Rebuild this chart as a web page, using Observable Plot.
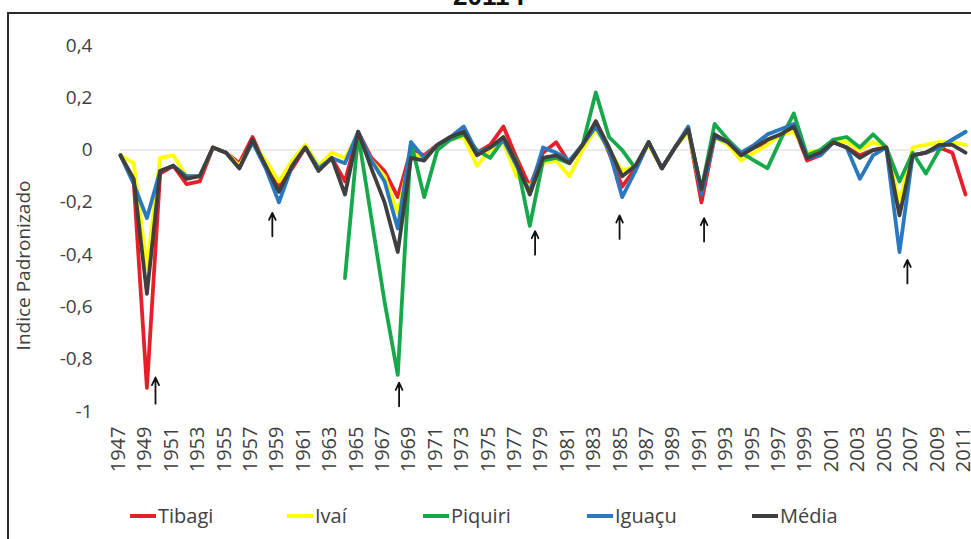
<!DOCTYPE html>
<html>
<head>
<meta charset="utf-8">
<script src="https://cdn.jsdelivr.net/npm/d3@7"></script>
<script src="https://cdn.jsdelivr.net/npm/@observablehq/plot@0.6"></script>
<style>
  html, body { margin: 0; padding: 0; background: #fff; }
  #wrap { position: relative; width: 971px; height: 539px; overflow: hidden; font-family: "Open Sans", sans-serif; }
  #title { position: absolute; top: -19px; left: 453px; font: bold 26px "Liberation Sans", Arial, sans-serif; line-height: 30px; color: #111; white-space: nowrap; }
  #frame { position: absolute; left: 7px; top: 12px; width: 990px; height: 560px; border-left: 2px solid #2a2a2a; border-top: 2px solid #2a2a2a; box-sizing: border-box; }
  #chart { position: absolute; left: 0; top: 0; }
  #legend { position: absolute; left: 0; top: 503px; width: 971px; height: 26px; }
  .item { position: absolute; top: 0; display: flex; align-items: center; font-size: 20px; line-height: 26px; color: #404040; white-space: nowrap; }
  .sw { display: inline-block; width: 26px; height: 4px; margin-right: 2px; }
</style>
</head>
<body>
<div id="wrap">
  <div id="title">2011 I</div>
  <div id="frame"></div>
  <div id="chart"></div>
  <div id="legend"></div>
</div>
<script>
// ---- data ----
const years = [1947,1948,1949,1950,1951,1952,1953,1954,1955,1956,1957,1958,1959,1960,1961,1962,1963,1964,1965,1966,1967,1968,1969,1970,1971,1972,1973,1974,1975,1976,1977,1978,1979,1980,1981,1982,1983,1984,1985,1986,1987,1988,1989,1990,1991,1992,1993,1994,1995,1996,1997,1998,1999,2000,2001,2002,2003,2004,2005,2006,2007,2008,2009,2010,2011];

const tibagi = [-0.02,-0.12,-0.91,-0.09,-0.06,-0.13,-0.12,0.01,-0.01,-0.05,0.05,-0.06,-0.14,-0.07,0.01,-0.07,-0.03,-0.12,0.07,-0.03,-0.08,-0.18,0.00,-0.02,0.02,0.05,0.07,-0.01,0.02,0.09,-0.03,-0.14,-0.01,0.03,-0.05,0.02,0.11,-0.01,-0.14,-0.07,0.03,-0.07,0.01,0.08,-0.20,0.05,0.03,-0.02,0.01,0.03,0.06,0.09,-0.04,-0.02,0.03,0.01,-0.02,0.00,0.01,-0.22,-0.02,-0.01,0.01,-0.01,-0.17];

const ivai = [-0.02,-0.05,-0.45,-0.03,-0.02,-0.10,-0.10,0.01,-0.01,-0.06,0.03,-0.04,-0.12,-0.04,0.02,-0.06,-0.01,-0.03,0.06,-0.04,-0.10,-0.24,-0.01,-0.03,0.02,0.04,0.05,-0.06,0.00,0.03,-0.10,-0.14,-0.05,-0.04,-0.10,0.00,0.08,0.00,-0.08,-0.06,0.02,-0.07,0.01,0.07,-0.16,0.05,0.02,-0.04,-0.01,0.02,0.06,0.07,-0.01,0.00,0.03,0.03,0.00,0.03,0.01,-0.20,0.01,0.02,0.03,0.03,0.02];

const piquiri = [null,null,null,null,null,null,null,null,null,null,null,null,null,null,null,null,null,-0.49,0.06,-0.26,-0.58,-0.86,0.03,-0.18,0.00,0.04,0.06,0.00,-0.03,0.04,-0.04,-0.29,-0.04,-0.03,-0.05,0.02,0.22,0.05,0.00,-0.07,0.03,-0.07,0.01,0.08,-0.15,0.10,0.04,-0.01,-0.04,-0.07,0.04,0.14,-0.02,0.00,0.04,0.05,0.01,0.06,0.01,-0.12,-0.01,-0.09,0.00,0.04,0.07];

const iguacu = [-0.02,-0.13,-0.26,-0.08,-0.06,-0.10,-0.10,0.01,-0.01,-0.07,0.03,-0.07,-0.20,-0.06,0.01,-0.07,-0.03,-0.05,0.07,-0.04,-0.12,-0.30,0.03,-0.03,0.02,0.05,0.09,-0.01,0.01,0.04,-0.06,-0.16,0.01,-0.01,-0.04,0.02,0.09,0.00,-0.18,-0.08,0.03,-0.07,0.01,0.09,-0.17,0.05,0.03,-0.01,0.02,0.06,0.08,0.10,-0.03,-0.02,0.03,0.01,-0.11,-0.02,0.01,-0.39,-0.02,-0.01,0.01,0.04,0.07];

const media = [-0.02,-0.11,-0.55,-0.08,-0.06,-0.11,-0.10,0.01,-0.01,-0.07,0.04,-0.06,-0.16,-0.06,0.01,-0.08,-0.03,-0.17,0.07,-0.07,-0.20,-0.39,-0.03,-0.04,0.02,0.05,0.07,-0.02,0.01,0.05,-0.05,-0.17,-0.03,-0.02,-0.05,0.02,0.11,0.01,-0.10,-0.06,0.03,-0.07,0.01,0.08,-0.15,0.06,0.03,-0.02,0.01,0.04,0.06,0.09,-0.03,-0.01,0.03,0.01,-0.03,0.00,0.01,-0.25,-0.02,-0.01,0.02,0.02,-0.01];

const seriesNames = ["Tibagi", "Ivaí", "Piquiri", "Iguaçu", "Média"];
const seriesColors = ["#e5202a", "#ffff00", "#18a84c", "#2a78bd", "#3f3f3f"];

const xTickYears = [1947,1949,1951,1953,1955,1957,1959,1961,1963,1965,1967,1969,1971,1973,1975,1977,1979,1981,1983,1985,1987,1989,1991,1993,1995,1997,1999,2001,2003,2005,2007,2009,2011];
const yTicks = [0.4, 0.2, 0, -0.2, -0.4, -0.6, -0.8, -1];
const yTickLabels = ["0,4", "0,2", "0", "-0,2", "-0,4", "-0,6", "-0,8", "-1"];
const yTitle = "Indice Padronizado";

// annotation arrows (year position, head value, tail value)
const arrowX = [1949.65, 1958.5, 1968.1, 1978.4, 1984.8, 1991.2, 2006.6];
const arrowHead = [-0.87, -0.24, -0.89, -0.31, -0.25, -0.26, -0.42];
const arrowTail = [-0.97, -0.33, -0.98, -0.40, -0.34, -0.35, -0.51];

// ---- build tables ----
const seriesValues = [tibagi, ivai, piquiri, iguacu, media];
const rows = [];
seriesNames.forEach((name, s) => {
  years.forEach((yr, i) => {
    const v = seriesValues[s][i];
    rows.push({series: name, year: yr, value: v == null ? NaN : v});
  });
});
const arrows = arrowX.map((x, i) => ({x, head: arrowHead[i], tail: arrowTail[i]}));
const tickLabelOf = new Map(yTicks.map((t, i) => [t, yTickLabels[i]]));

const chart = Plot.plot({
  width: 971,
  height: 480,
  marginLeft: 120,
  marginRight: 6,
  marginTop: 45,
  marginBottom: 69,
  style: {fontFamily: "'Open Sans', sans-serif", color: "#404040", background: "transparent", overflow: "visible"},
  x: {type: "linear", domain: [1947, 2011]},
  y: {domain: [-1, 0.4]},
  color: {domain: seriesNames, range: seriesColors},
  marks: [
    Plot.ruleY([0], {stroke: "#d9d9d9", strokeWidth: 1}),
    Plot.line(rows, {x: "year", y: "value", z: "series", stroke: "series", strokeWidth: 3.8, strokeLinejoin: "round", strokeLinecap: "round"}),
    Plot.arrow(arrows, {x1: "x", x2: "x", y1: "tail", y2: "head", stroke: "#111", strokeWidth: 1.8, headLength: 7, headAngle: 50}),
    Plot.axisY({ticks: yTicks, tickFormat: d => tickLabelOf.get(d), tickSize: 0, tickPadding: 28, fontSize: 19, label: null}),
    Plot.axisX({ticks: xTickYears, tickFormat: d => String(d), tickRotate: -90, tickSize: 0, tickPadding: 15, fontSize: 20, dx: -2, label: null}),
    Plot.text([yTitle], {frameAnchor: "left", textAnchor: "middle", dx: -97, dy: 37, rotate: -90, fontSize: 19, fill: "#404040", text: d => d})
  ]
});
document.getElementById("chart").appendChild(chart);

// ---- legend ----
const legendX = [130, 287, 423, 587, 752];
const legend = document.getElementById("legend");
seriesNames.forEach((name, i) => {
  const item = document.createElement("div");
  item.className = "item";
  item.style.left = legendX[i] + "px";
  const sw = document.createElement("span");
  sw.className = "sw";
  sw.style.background = seriesColors[i];
  item.appendChild(sw);
  item.appendChild(document.createTextNode(name));
  legend.appendChild(item);
});
</script>
</body>
</html>
